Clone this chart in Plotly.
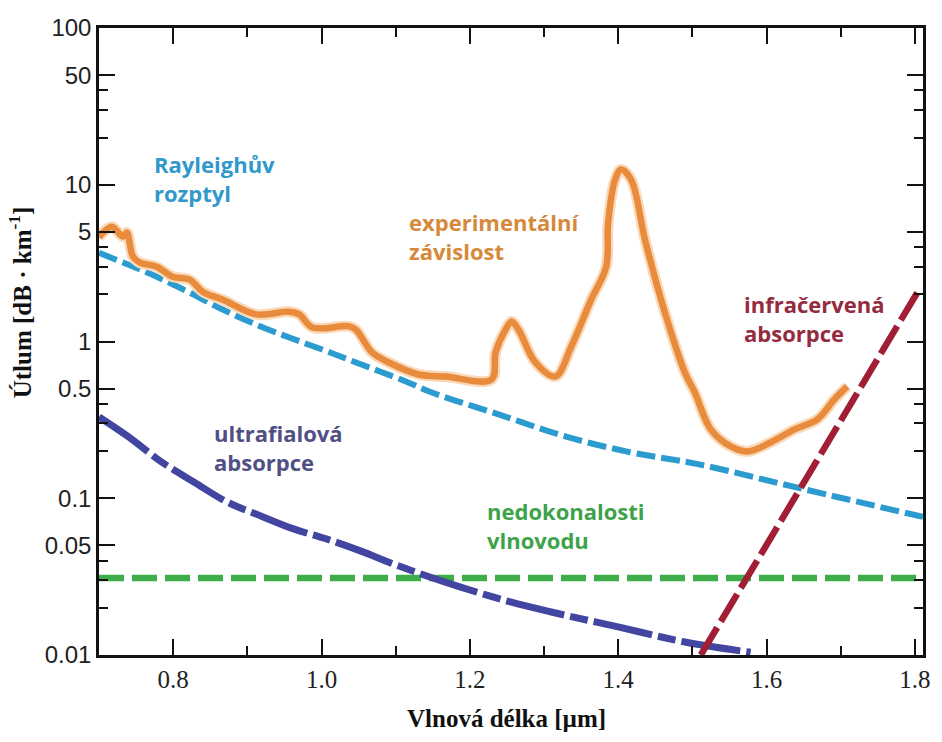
import plotly.graph_objects as go

# ---- data ----
exp_x = [0.700, 0.7054, 0.7175, 0.7322, 0.7376, 0.7457, 0.7551, 0.7779, 0.7994, 0.8222, 0.8397,
         0.8666, 0.9122, 0.9566, 0.9700, 0.9875, 1.0372, 1.0466, 1.0681, 1.0909, 1.1312,
         1.1675, 1.2293, 1.2347, 1.2481, 1.2562, 1.2656, 1.2884, 1.3153, 1.3368, 1.3636,
         1.3838, 1.3865, 1.3959, 1.4039, 1.4174, 1.4362, 1.4630, 1.4899, 1.5033, 1.5248,
         1.5517, 1.5745, 1.6054, 1.6377, 1.6686, 1.6914, 1.7089]
exp_y = [4.6, 4.95, 5.40, 4.67, 4.95, 3.48, 3.19, 3.00, 2.59, 2.48, 2.08,
         1.85, 1.49, 1.55, 1.49, 1.23, 1.25, 1.19, 0.851, 0.735, 0.616,
         0.598, 0.573, 0.851, 1.19, 1.34, 1.19, 0.735, 0.598, 0.929, 1.85,
         3.00, 5.73, 10.8, 12.5, 10.8, 4.46, 1.53, 0.635, 0.473, 0.275,
         0.214, 0.199, 0.227, 0.275, 0.319, 0.427, 0.517]

ray_x = [0.700, 0.7779, 0.8222, 0.8666, 0.9122, 0.9566, 1.0009, 1.0466, 1.1138, 1.1487,
         1.2387, 1.3287, 1.4174, 1.5074, 1.6511, 1.811]
ray_y = [3.68, 2.59, 2.05, 1.60, 1.28, 1.06, 0.889, 0.735, 0.556, 0.473,
         0.343, 0.248, 0.196, 0.165, 0.114, 0.076]

uv_x = [0.700, 0.739, 0.7846, 0.829, 0.8733, 0.919, 0.9633, 1.0076, 1.0533, 1.0976,
        1.142, 1.1876, 1.2548, 1.3099, 1.3999, 1.4899, 1.5786]
uv_y = [0.330, 0.248, 0.170, 0.126, 0.0943, 0.0768, 0.0635, 0.0548, 0.0460, 0.0380,
        0.0319, 0.0271, 0.0218, 0.0188, 0.0151, 0.0121, 0.0104]

wg_x = [0.700, 1.811]
wg_y = [0.031, 0.031]

ir_x = [1.5114, 1.8069]
ir_y = [0.010, 2.19]

x_ticks = [0.8, 1.0, 1.2, 1.4, 1.6, 1.8]
x_ticktext = ["0.8", "1.0", "1.2", "1.4", "1.6", "1.8"]
x_minor = [0.9, 1.1, 1.3, 1.5, 1.7]
y_ticks = [0.01, 0.05, 0.1, 0.5, 1, 5, 10, 50, 100]
y_ticktext = ["0.01", "0.05", "0.1", "0.5", "1", "5", "10", "50", "100"]
y_minor = [0.02, 0.03, 0.04, 0.2, 0.3, 0.4, 2, 3, 4, 20, 30, 40]

labels = [
    ("Rayleighův<br>rozptyl", "#3198CB"),
    ("experimentální<br>závislost", "#D6893A"),
    ("infračervená<br>absorpce", "#952B40"),
    ("ultrafialová<br>absorpce", "#505085"),
    ("nedokonalosti<br>vlnovodu", "#3DA34A"),
]
label_pos = [(152, 178), (408, 236), (744, 318), (212, 448), (486, 525)]

# ---- figure ----
L, R, T, B = 99, 926, 28, 655
W, H = 942, 742

fig = go.Figure()
fig.add_trace(go.Scatter(x=wg_x, y=wg_y, mode="lines",
                         line=dict(color="#3DAE4A", width=6.5, dash="25px,8px")))
fig.add_trace(go.Scatter(x=ray_x, y=ray_y, mode="lines", line_shape="spline",
                         line=dict(color="#2C9BCF", width=6, dash="19px,6px")))
fig.add_trace(go.Scatter(x=uv_x, y=uv_y, mode="lines", line_shape="spline",
                         line=dict(color="#4346A0", width=7, dash="60px,6px,18px,6px")))
fig.add_trace(go.Scatter(x=ir_x, y=ir_y, mode="lines",
                         line=dict(color="#A11E34", width=6.5, dash="32px,7px")))
fig.add_trace(go.Scatter(x=exp_x, y=exp_y, mode="lines", line_shape="spline",
                         line=dict(color="#FAD9B8", width=11)))
fig.add_trace(go.Scatter(x=exp_x, y=exp_y, mode="lines", line_shape="spline",
                         line=dict(color="#E88B3C", width=6.5)))

for (txt, col), (px, py) in zip(labels, label_pos):
    fig.add_annotation(text=txt, xref="paper", yref="paper",
                       x=(px - L) / (R - L), y=(B - py) / (B - T),
                       xanchor="left", yanchor="middle", align="left", showarrow=False,
                       font=dict(family="Open Sans", size=22, color=col, weight="bold"))

fig.add_annotation(text="Útlum [dB · km<sup>-1</sup>]", xref="paper", yref="paper",
                   x=(20 - L) / (R - L), y=(B - 302) / (B - T), textangle=-90,
                   xanchor="center", yanchor="middle", showarrow=False,
                   font=dict(family="Liberation Serif", size=25, color="#111", weight="bold"))
fig.add_annotation(text="Vlnová délka [µm]", xref="paper", yref="paper",
                   x=(508 - L) / (R - L), y=(B - 718) / (B - T),
                   xanchor="center", yanchor="middle", showarrow=False,
                   font=dict(family="Liberation Serif", size=25, color="#111", weight="bold"))

axis_common = dict(showgrid=False, zeroline=False, showline=True, linecolor="#111",
                   linewidth=2.5, mirror="allticks", ticks="inside", tickcolor="#111",
                   tickwidth=2, ticklen=16)

fig.update_xaxes(range=[0.7, 1.811], tickmode="array", tickvals=x_ticks, ticktext=x_ticktext,
                 tickfont=dict(family="Liberation Serif", size=25, color="#222"),
                 minor=dict(tickvals=x_minor, ticks="inside", ticklen=9, tickwidth=2,
                            tickcolor="#111"),
                 **axis_common)
fig.update_yaxes(type="log", range=[-2, 2], tickmode="array", tickvals=y_ticks,
                 ticktext=y_ticktext,
                 tickfont=dict(family="Liberation Sans", size=24, color="#222"),
                 minor=dict(tickvals=y_minor, ticks="inside", ticklen=9, tickwidth=2,
                            tickcolor="#111"),
                 **axis_common)

fig.update_layout(width=W, height=H, margin=dict(l=L, r=W - R, t=T, b=H - B),
                  paper_bgcolor="white", plot_bgcolor="white", showlegend=False)

fig.write_html("out.html")
